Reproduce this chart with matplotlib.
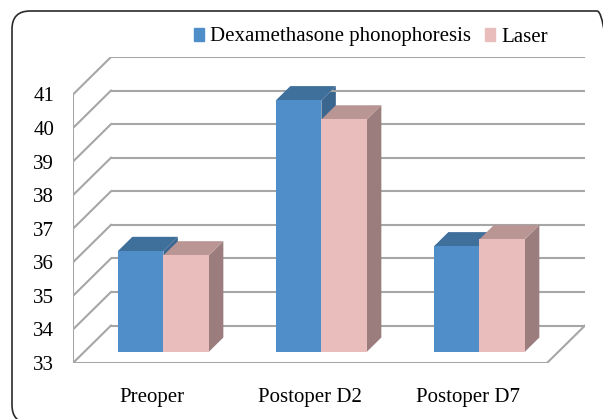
import matplotlib
matplotlib.use("Agg")
import matplotlib.pyplot as plt
import matplotlib.patches as mpatches
from matplotlib.patches import FancyBboxPatch, Polygon

plt.rcParams["font.family"] = ["Liberation Serif", "DejaVu Serif"]

# ── data ────────────────────────────────────────────────
categories = ["Preoper", "Postoper D2", "Postoper D7"]
series_names = ["Dexamethasone phonophoresis", "Laser"]
dexa_values = [36.0, 40.49, 36.14]
laser_values = [35.87, 39.92, 36.35]
y_ticks = [33, 34, 35, 36, 37, 38, 39, 40, 41]

# ── style ───────────────────────────────────────────────
W, H = 603, 419
face = {"Dexa": ("#4F8EC9", "#3F6F9B", "#3A6690"),
        "Laser": ("#E9BDBC", "#B99594", "#9B7D7E")}
grid_c = "#A6A6A6"
ymin, ymax = y_ticks[0], y_ticks[-1]

# pseudo 3D depth (in data units) and bar geometry
DX, DY = 0.2405, 1.116
F0, F1 = 0.30, 0.68
bw = 0.288

fig = plt.figure(figsize=(W / 100, H / 100), dpi=100, facecolor="white")
ax = fig.add_axes([73 / W, 56 / H, 512 / W, 306 / H])
ax.set_xlim(0, len(categories) + DX)
ax.set_ylim(ymin, ymax + DY)
ax.set_facecolor("none")
for sp in ax.spines.values():
    sp.set_visible(False)

# walls / gridlines
lw = 1.5
ncat = len(categories)
for v in y_ticks:
    ax.plot([DX, ncat + DX], [v + DY, v + DY], color=grid_c, lw=lw, solid_capstyle="butt")
    ax.plot([0, DX], [v, v + DY], color=grid_c, lw=lw)
ax.plot([0, 0], [ymin, ymax], color=grid_c, lw=lw)
ax.plot([0, ncat], [ymin, ymin], color=grid_c, lw=lw)
ax.plot([ncat, ncat + DX], [ymin, ymin + DY], color=grid_c, lw=lw)

# bars: front face via ax.bar, top / side faces from the same bar geometry
dd = F1 - F0
for k, (vals, key) in enumerate([(dexa_values, "Dexa"), (laser_values, "Laser")]):
    front, top, side = face[key]
    xs = [i + 0.5 + (k - 1) * bw + F0 * DX for i in range(ncat)]
    base = ymin + F0 * DY
    bars = ax.bar(xs, [v - ymin for v in vals], width=bw, bottom=base,
                  align="edge", color=front, linewidth=0, zorder=3 + k * 3)
    for b in bars:
        x0, y0 = b.get_x(), b.get_y()
        x1, y1 = x0 + b.get_width(), y0 + b.get_height()
        ox, oy = dd * DX, dd * DY
        ax.add_patch(Polygon([(x1, y0), (x1 + ox, y0 + oy), (x1 + ox, y1 + oy), (x1, y1)],
                             closed=True, color=side, lw=0, zorder=1 + k * 3))
        ax.add_patch(Polygon([(x0, y1), (x0 + ox, y1 + oy), (x1 + ox, y1 + oy), (x1, y1)],
                             closed=True, color=top, lw=0, zorder=2 + k * 3))

ax.set_yticks(y_ticks)
ax.set_yticklabels([str(t) for t in y_ticks])
ax.set_xticks([i + 0.5 for i in range(ncat)])
ax.set_xticklabels(categories)
ax.tick_params(axis="y", length=0, pad=13.5, labelsize=15, colors="black")
ax.tick_params(axis="x", length=0, pad=18, labelsize=15, colors="black")

# legend
handles = [mpatches.Patch(color=face["Dexa"][0], label=series_names[0]),
           mpatches.Patch(color=face["Laser"][0], label=series_names[1])]
fig.legend(handles=handles, loc="center", bbox_to_anchor=(371 / W, 1 - 37 / H),
           ncol=2, frameon=False, fontsize=15, handlelength=0.5, handleheight=0.6,
           handletextpad=0.3, columnspacing=0.65, borderpad=0)

# outer rounded frame
frame = FancyBboxPatch((12 / W, -0.01), 1.02 - 12 / W, 1.01 - 11 / H,
                       boxstyle="round,pad=0,rounding_size=0.03",
                       mutation_aspect=W / H, transform=fig.transFigure,
                       facecolor="none", edgecolor="#2B2B2B", lw=1.2, clip_on=False)
fig.add_artist(frame)

fig.savefig("out.png", dpi=100, facecolor="white")
